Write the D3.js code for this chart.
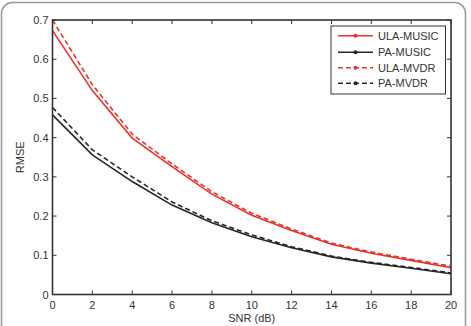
<!DOCTYPE html>
<html><head><meta charset="utf-8">
<script src="https://cdn.jsdelivr.net/npm/d3@7"></script>
<style>body{margin:0;background:#fff}svg{display:block}</style>
</head><body>
<svg id="c" width="471" height="326"></svg>
<script>
const snr = [0,2,4,6,8,10,12,14,16,18,20];
const ulaMusic = [0.673,0.520,0.399,0.326,0.256,0.202,0.163,0.128,0.105,0.087,0.068];
const paMusic  = [0.458,0.356,0.288,0.228,0.183,0.147,0.119,0.096,0.080,0.067,0.053];
const ulaMvdr  = [0.700,0.535,0.409,0.333,0.262,0.207,0.167,0.131,0.108,0.090,0.072];
const paMvdr   = [0.477,0.369,0.300,0.236,0.188,0.152,0.122,0.098,0.082,0.069,0.055];
const seriesNames = ["ULA-MUSIC","PA-MUSIC","ULA-MVDR","PA-MVDR"];
const xTicks = [0,2,4,6,8,10,12,14,16,18,20];
const yTicks = [0,0.1,0.2,0.3,0.4,0.5,0.6,0.7];

const series = [
  {name:seriesNames[0], vals:ulaMusic, color:"#e8322a", dash:null},
  {name:seriesNames[1], vals:paMusic,  color:"#262626", dash:null},
  {name:seriesNames[2], vals:ulaMvdr,  color:"#e8322a", dash:"5,3"},
  {name:seriesNames[3], vals:paMvdr,   color:"#262626", dash:"5,3"}
];

const svg = d3.select("#c");
const font = "'Liberation Sans', Arial, sans-serif";
const L=52.5, R=451, T=20, B=294.5;
const x = d3.scaleLinear().domain([0,20]).range([L,R]);
const y = d3.scaleLinear().domain([0,0.7]).range([B,T]);

// figure frame
svg.append("rect").attr("x",1.5).attr("y",2.5).attr("width",464).attr("height",360)
  .attr("rx",11).attr("fill","none").attr("stroke","#9a9a9a").attr("stroke-width",1.6);

// lines
const line = d3.line().x((d,i)=>x(snr[i])).y(d=>y(d));
series.forEach(s=>{
  svg.append("path").attr("d",line(s.vals)).attr("fill","none")
    .attr("stroke",s.color).attr("stroke-width",1.6)
    .attr("stroke-dasharray",s.dash);
});

// axes (box with inward ticks)
const axCol = "#333";
const g = svg.append("g").attr("font-family",font).attr("font-size",11).attr("fill","#333");
const tl = 4;
xTicks.forEach(t=>{
  const px = x(t);
  g.append("line").attr("x1",px).attr("x2",px).attr("y1",B).attr("y2",B-tl).attr("stroke",axCol);
  g.append("line").attr("x1",px).attr("x2",px).attr("y1",T).attr("y2",T+tl).attr("stroke",axCol);
  g.append("text").attr("x",px).attr("y",B+14.5).attr("text-anchor","middle").text(d3.format("d")(t));
});
yTicks.forEach(t=>{
  const py = y(t);
  g.append("line").attr("x1",L).attr("x2",L+tl).attr("y1",py).attr("y2",py).attr("stroke",axCol);
  g.append("line").attr("x1",R).attr("x2",R-tl).attr("y1",py).attr("y2",py).attr("stroke",axCol);
  g.append("text").attr("x",L-4).attr("y",py+4).attr("text-anchor","end").text(t===0?"0":d3.format(".1f")(t));
});
svg.append("rect").attr("x",L).attr("y",T).attr("width",R-L).attr("height",B-T)
  .attr("fill","none").attr("stroke",axCol).attr("stroke-width",1.6);

g.append("text").attr("x",(L+R)/2).attr("y",322).attr("text-anchor","middle").text("SNR (dB)");
g.append("text").attr("transform",`translate(24,${(T+B)/2}) rotate(-90)`).attr("text-anchor","middle").text("RMSE");

// legend
const lg = svg.append("g");
lg.append("rect").attr("x",331).attr("y",26).attr("width",114.5).attr("height",68)
  .attr("fill","#fff").attr("stroke","#333").attr("stroke-width",1);
const ly = [35.7,52.3,67.7,83.3];
series.forEach((s,i)=>{
  lg.append("line").attr("x1",338).attr("x2",373).attr("y1",ly[i]).attr("y2",ly[i])
    .attr("stroke",s.color).attr("stroke-width",1.6).attr("stroke-dasharray",s.dash);
  lg.append("circle").attr("cx",355.5).attr("cy",ly[i]).attr("r",2).attr("fill",s.color);
  lg.append("text").attr("x",378).attr("y",ly[i]+4).attr("font-family",font).attr("font-size",11)
    .attr("fill","#333").text(s.name);
});
</script>
</body></html>
